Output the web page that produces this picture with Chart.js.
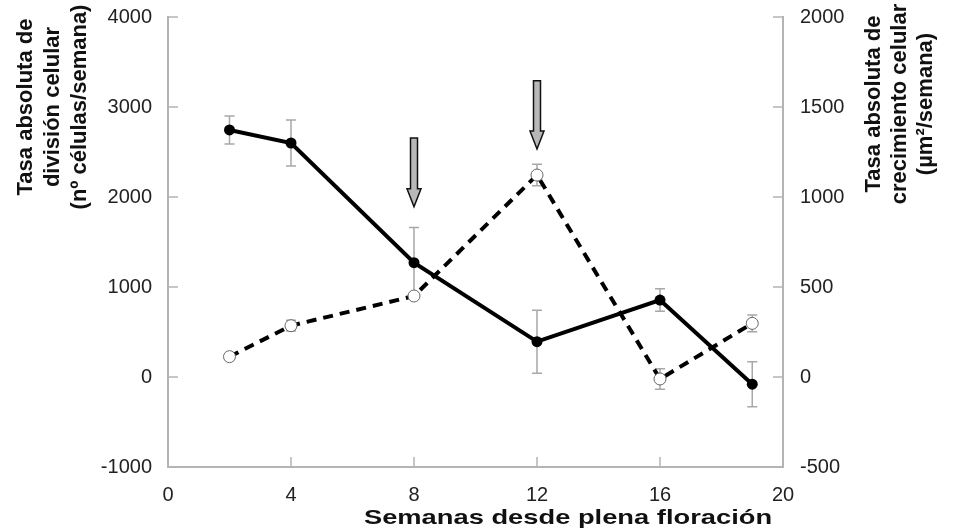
<!DOCTYPE html>
<html>
<head>
<meta charset="utf-8">
<script src="https://cdn.jsdelivr.net/npm/chart.js@4/dist/chart.umd.min.js"></script>
<style>
html,body{margin:0;padding:0;background:#fff;}
#wrap{width:955px;height:529px;position:relative;}
</style>
</head>
<body>
<div id="wrap"><canvas id="c" width="955" height="529"></canvas></div>
<script>
// ---- Data ----
const weeks = [2, 4, 8, 12, 16, 19];
const divisionRate = [2745, 2600, 1270, 393, 855, -80];   // left axis (nº células/semana)
const divisionErr  = [155, 255, 390, 350, 125, 250];
const growthRate   = [113, 285, 450, 1122, -11, 298];      // right axis (µm²/semana)
const growthErr    = [10, 30, 15, 60, 57, 46];
const xTicks = [0, 4, 8, 12, 16, 20];
const arrowWeeks = [8, 12];
const arrowTop   = [2656, 3292];   // left-axis units
const arrowTip   = [1892, 2533];

const leftTitle  = ["Tasa absoluta de", "división celular", "(nº células/semana)"];
const rightTitle = ["Tasa absoluta de", "crecimiento celular", "(µm²/semana)"];
const xTitle = "Semanas desde plena floración";

const FONT = "'Liberation Sans', Arial, sans-serif";

const extras = {
  id: 'extras',
  beforeDatasetsDraw(chart) {
    const ctx = chart.ctx;
    const xs = chart.scales.x, yl = chart.scales.y, yr = chart.scales.y2;
    ctx.save();
    ctx.strokeStyle = '#a8a8a8';
    ctx.lineWidth = 1.5;
    const cap = 5;
    const drawErr = (vals, errs, sc) => {
      weeks.forEach((w, i) => {
        const x = xs.getPixelForValue(w);
        const t = sc.getPixelForValue(vals[i] + errs[i]);
        const b = sc.getPixelForValue(vals[i] - errs[i]);
        ctx.beginPath();
        ctx.moveTo(x, t); ctx.lineTo(x, b);
        ctx.moveTo(x - cap, t); ctx.lineTo(x + cap, t);
        ctx.moveTo(x - cap, b); ctx.lineTo(x + cap, b);
        ctx.stroke();
      });
    };
    drawErr(divisionRate, divisionErr, yl);
    drawErr(growthRate, growthErr, yr);
    ctx.restore();
  },
  afterDraw(chart) {
    const ctx = chart.ctx;
    const xs = chart.scales.x, yl = chart.scales.y, yr = chart.scales.y2;
    const area = chart.chartArea;
    ctx.save();
    // inside tick marks
    ctx.strokeStyle = '#b4b4b4';
    ctx.lineWidth = 1.5;
    ctx.beginPath();
    yl.ticks.forEach(t => {
      const y = yl.getPixelForValue(t.value);
      ctx.moveTo(area.left, y); ctx.lineTo(area.left + 10, y);
    });
    yr.ticks.forEach(t => {
      const y = yr.getPixelForValue(t.value);
      ctx.moveTo(area.right, y); ctx.lineTo(area.right - 10, y);
    });
    xs.ticks.forEach(t => {
      const x = xs.getPixelForValue(t.value);
      ctx.moveTo(x, area.bottom); ctx.lineTo(x, area.bottom - 10);
    });
    ctx.stroke();

    // arrows
    arrowWeeks.forEach((w, i) => {
      const x = xs.getPixelForValue(w);
      const top = yl.getPixelForValue(arrowTop[i]);
      const tip = yl.getPixelForValue(arrowTip[i]);
      const sw = 3.5, hw = 7, hh = 18;
      ctx.beginPath();
      ctx.moveTo(x - sw, top);
      ctx.lineTo(x + sw, top);
      ctx.lineTo(x + sw, tip - hh);
      ctx.lineTo(x + hw, tip - hh);
      ctx.lineTo(x, tip);
      ctx.lineTo(x - hw, tip - hh);
      ctx.lineTo(x - sw, tip - hh);
      ctx.closePath();
      ctx.fillStyle = '#b8b8b8';
      ctx.fill();
      ctx.strokeStyle = '#111';
      ctx.lineWidth = 1.5;
      ctx.stroke();
    });

    // titles
    ctx.fillStyle = '#111';
    ctx.textAlign = 'center';
    ctx.textBaseline = 'middle';
    ctx.font = "bold 22px " + FONT;
    const titleY = (yl.getPixelForValue(4000) + yl.getPixelForValue(2000)) / 2;
    leftTitle.forEach((s, i) => {
      ctx.save();
      ctx.translate(26 + i * 27, titleY);
      ctx.rotate(-Math.PI / 2);
      ctx.fillText(s, 0, 0);
      ctx.restore();
    });
    rightTitle.forEach((s, i) => {
      ctx.save();
      ctx.translate(874 + i * 26, titleY - 3);
      ctx.rotate(-Math.PI / 2);
      ctx.fillText(s, 0, 0);
      ctx.restore();
    });
    ctx.save();
    ctx.font = "bold 21px " + FONT;
    ctx.translate(568, 518);
    ctx.scale(1.3, 1);
    ctx.fillText(xTitle, 0, 0);
    ctx.restore();
    ctx.restore();
  }
};

const tickFont = { size: 20, family: FONT };
const plain = v => String(v);
const fitY = w => s => { s.width = w; s.paddingTop = 0; s.paddingBottom = 0; };

new Chart(document.getElementById('c'), {
  type: 'line',
  data: {
    datasets: [
      {
        label: 'División celular',
        data: weeks.map((w, i) => ({x: w, y: divisionRate[i]})),
        yAxisID: 'y',
        borderColor: '#000',
        borderWidth: 4,
        pointRadius: 5.5,
        pointBackgroundColor: '#000',
        pointBorderColor: '#000',
        pointBorderWidth: 0,
        tension: 0,
        order: 1
      },
      {
        label: 'Crecimiento celular',
        data: weeks.map((w, i) => ({x: w, y: growthRate[i]})),
        yAxisID: 'y2',
        borderColor: '#000',
        borderWidth: 4,
        borderDash: [10, 7],
        pointRadius: 6,
        pointBackgroundColor: '#fff',
        pointBorderColor: '#666',
        pointBorderWidth: 1,
        tension: 0,
        order: 2
      }
    ]
  },
  options: {
    responsive: false,
    animation: false,
    devicePixelRatio: 1,
    layout: { padding: { top: 17, left: 0, right: 0, bottom: 0 } },
    plugins: { legend: { display: false }, tooltip: { enabled: false } },
    scales: {
      x: {
        type: 'linear',
        min: 0, max: 20,
        afterBuildTicks: s => { s.ticks = xTicks.map(v => ({value: v})); },
        afterFit: s => { s.height = 62; s.paddingLeft = 0; s.paddingRight = 0; },
        grid: { display: false, drawTicks: false },
        border: { display: true, color: '#b4b4b4', width: 2 },
        ticks: { padding: 16, color: '#222', font: tickFont, callback: plain }
      },
      y: {
        position: 'left',
        min: -1000, max: 4000,
        ticks: { stepSize: 1000, padding: 16, color: '#222', font: tickFont, callback: plain },
        afterFit: fitY(168),
        grid: { display: false, drawTicks: false },
        border: { display: true, color: '#b4b4b4', width: 2 }
      },
      y2: {
        position: 'right',
        min: -500, max: 2000,
        ticks: { stepSize: 500, padding: 17, color: '#222', font: tickFont, callback: plain },
        afterFit: fitY(172),
        grid: { display: false, drawTicks: false },
        border: { display: true, color: '#b4b4b4', width: 2 }
      }
    }
  },
  plugins: [extras]
});
</script>
</body>
</html>
